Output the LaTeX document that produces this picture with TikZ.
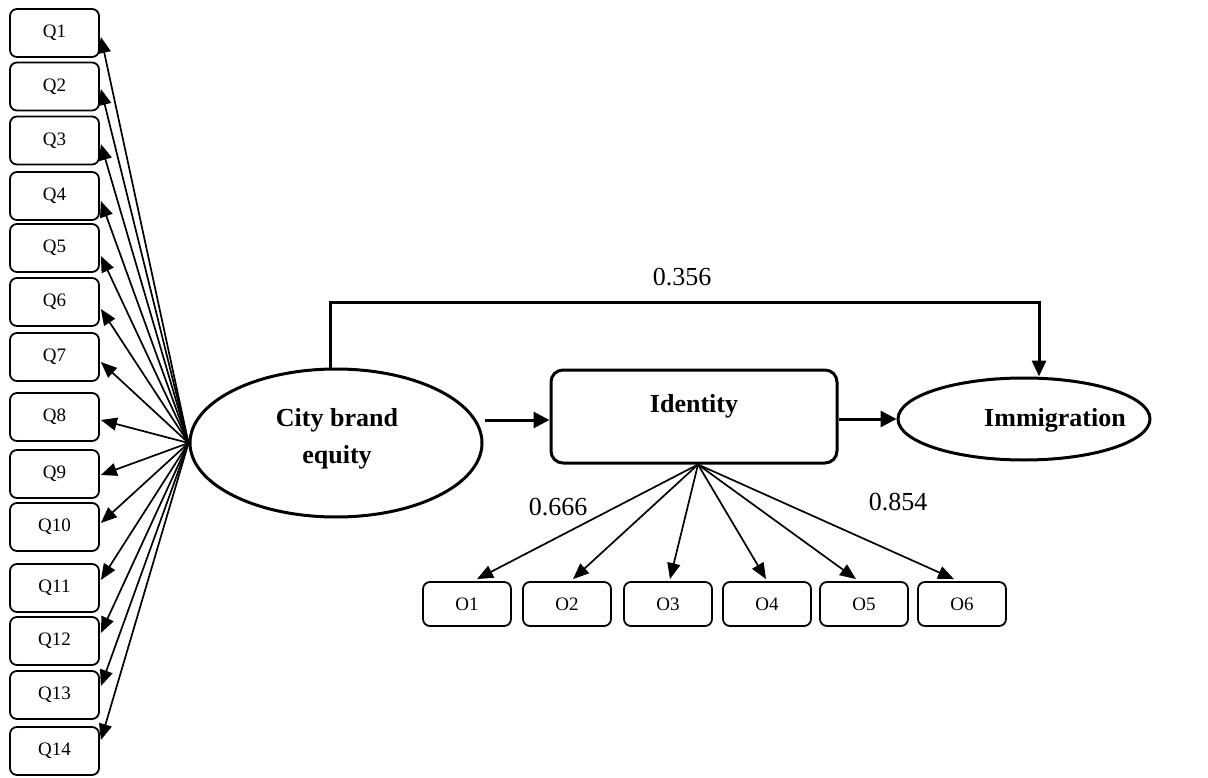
\documentclass[tikz,border=0pt]{standalone}
\usepackage{fontspec}
\setmainfont{Liberation Serif}
\usetikzlibrary{arrows.meta,shapes.geometric,calc}
\begin{document}
\begin{tikzpicture}[x=1pt,y=-1pt,
  qbox/.style={draw,line width=1.8pt,rounded corners=7pt,minimum width=89pt,minimum height=48pt,inner sep=0pt,font=\fontsize{19}{22}\selectfont},
  obox/.style={draw,line width=1.8pt,rounded corners=7pt,minimum width=88pt,minimum height=44pt,inner sep=0pt,font=\fontsize{19}{22}\selectfont},
  thinarrow/.style={line width=1.7pt,-{Triangle[length=16pt,width=13pt]}},
  thickarrow/.style={line width=3pt,-{Triangle[length=16pt,width=16pt]}},
  latent/.style={draw,ellipse,line width=3pt,inner sep=0pt},
  boldtext/.style={font=\fontsize{26}{37}\selectfont\bfseries},
  numlabel/.style={font=\fontsize{26}{30}\selectfont}
]
\useasboundingbox (0,0) rectangle (1208,778);

% Q boxes
\foreach \i/\y in {1/33,2/86.5,3/140.5,4/196,5/248,6/302,7/357,8/417,9/474,10/527,11/588,12/641,13/695,14/751}{
  \node[qbox] (Q\i) at (54.5,\y) {Q\i};
}

% City brand equity
\node[latent,minimum width=292pt,minimum height=148pt] (CBE) at (336,443) {};
\node[boldtext,align=center] (CBEt) at (337,439) {City brand\\equity};

% Identity
\node[draw,line width=3pt,rounded corners=12pt,minimum width=286pt,minimum height=93pt,inner sep=0pt] (Id) at (694,416.5) {};
\node[boldtext] (Idt) at (694,406) {Identity};

% Immigration
\node[latent,minimum width=252pt,minimum height=82pt] (Im) at (1024,419) {};
\node[boldtext] (Imt) at (1055,420) {Immigration};

% arrows CBE -> Q
\coordinate (src) at (CBE.west);
\foreach \i/\d in {1/4,2/2.5,3/3.5,4/5,5/8,6/7,7/5,8/3,9/1,10/-4,11/-8,12/-8,13/-9,14/-11}{
  \draw[thinarrow] (src) -- ([xshift=1pt,yshift=-\d pt]Q\i.east);
}

% main paths
\coordinate (a1) at ([yshift=-3.5pt]Id.west);
\draw[thickarrow] ([xshift=1pt]CBE.east |- a1) -- (a1);
\draw[thickarrow] (Id.east |- Im.west) -- (Im.west);
\draw[line width=3pt,-{Triangle[length=16pt,width=14pt]}] ([xshift=-6pt]CBE.north) -- ++(0,-65) -| ([xshift=15pt]Im.north);
\node[numlabel] (l356) at (682,277) {0.356};

% O boxes
\foreach \i/\x in {1/467,2/567,3/668,4/767,5/864,6/962}{
  \node[obox] (O\i) at (\x,604) {O\i};
}
\coordinate (isrc) at ([xshift=4pt]Id.south);
\foreach \i/\d in {1/10,2/6,3/2,4/-1,5/-8,6/-8}{
  \draw[thinarrow] (isrc) -- ([xshift=\d pt,yshift=2pt]O\i.north);
}
\node[numlabel] (l666) at (558,507) {0.666};
\node[numlabel] (l854) at (898,502) {0.854};
\end{tikzpicture}
\end{document}
